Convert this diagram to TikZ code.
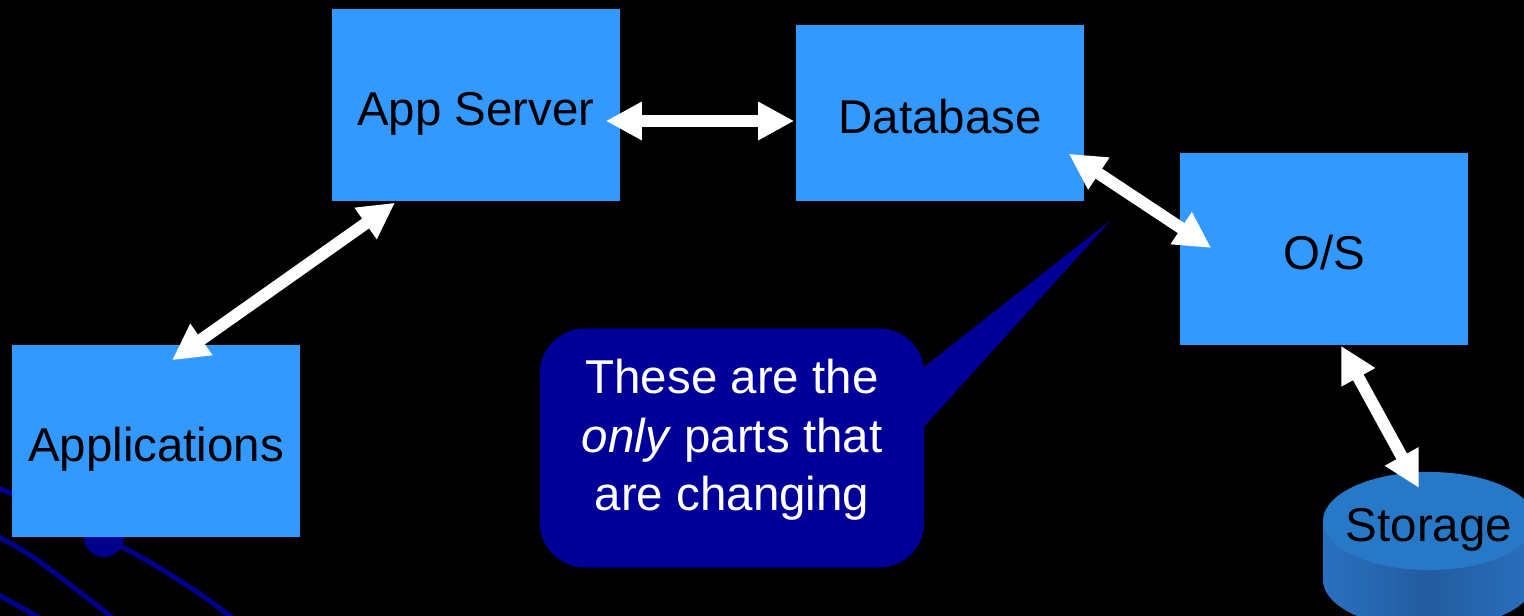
\documentclass[tikz,border=0pt]{standalone}
\usepackage{fontspec}
\setmainfont{Liberation Sans}
\usetikzlibrary{arrows.meta}
\definecolor{boxblue}{RGB}{51,153,255}
\definecolor{noteblue}{RGB}{0,0,153}
\definecolor{curveblue}{RGB}{0,0,140}
\definecolor{disktop}{RGB}{40,120,200}
\definecolor{diskside}{RGB}{42,112,192}
\definecolor{diskdark}{RGB}{34,92,158}

\begin{document}
\begin{tikzpicture}[x=0.01cm, y=-0.01cm,
    comp/.style={rectangle, fill=boxblue, minimum width=2.88cm, minimum height=1.92cm, inner sep=0pt, text height=11.4pt, text depth=0pt, font=\fontsize{13.5}{16.6}\selectfont},
    dblarrow/.style={draw=white, line width=0.12cm, {Triangle[width=0.36cm,length=0.36cm]}-{Triangle[width=0.36cm,length=0.36cm]}}]

    \useasboundingbox[fill=black] (0,0) rectangle (1524,616);

    % swirl in the corner
    \draw[curveblue, line width=0.05cm] plot[smooth] coordinates {(-5,487) (60,513) (104,537) (153,564) (200,594) (235,620)};
    \draw[curveblue, line width=0.05cm] plot[smooth] coordinates {(-5,535) (33,557) (90,600) (115,620)};
    \draw[curveblue, line width=0.05cm] (-5,593) -- (40,618);
    \fill[curveblue] (104,537) circle[radius=0.2cm];

    \node[comp] (appserver) at (476,105) {App Server};
    \node[comp, minimum height=1.76cm] (database) at (940,113) {Database};
    \node[comp] (os) at (1324,249) {O/S};
    \node[comp] (apps) at (156,441) {Applications};

    % storage disk
    \fill[left color=diskside, right color=diskside, middle color=diskdark] (1323,521) -- (1323,580) arc[start angle=180, end angle=360, x radius=1.06cm, y radius=0.49cm] -- (1535,521) -- cycle;
    \fill[disktop] (1429,521) ellipse[x radius=1.06cm, y radius=0.49cm];
    \node[text height=11.4pt, text depth=0pt, font=\fontsize{13.5}{16.6}\selectfont] (storage) at (1429,521) {Storage};

    % callout
    \node[fill=noteblue, rounded corners=0.45cm, minimum width=3.84cm, minimum height=2.39cm] (note) at (732,448) {};
    \coordinate (tip) at (1111,220);
    \fill[noteblue] ([shift={(-2,-80)}]note.east) -- (tip) -- ([shift={(-2,-20)}]note.east) -- cycle;
    \node[white, align=center, font=\fontsize{13.5}{16.6}\selectfont] (notetext) at ([shift={(0,-8)}]note.center) {These are the\\\textit{only} parts that\\are changing};

    \draw[dblarrow] ([shift={(-15,16)}]appserver.east) -- ([shift={(-1,8)}]database.west);
    \draw[dblarrow] ([shift={(16,16)}]apps.north) -- ([shift={(-81,1)}]appserver.south);
    \draw[dblarrow] ([shift={(-16,-48)}]database.south east) -- ([shift={(32,-1)}]os.west);
    \draw[dblarrow] ([shift={(17,0)}]os.south) -- ([shift={(-10,-33)}]storage.center);
\end{tikzpicture}
\end{document}
